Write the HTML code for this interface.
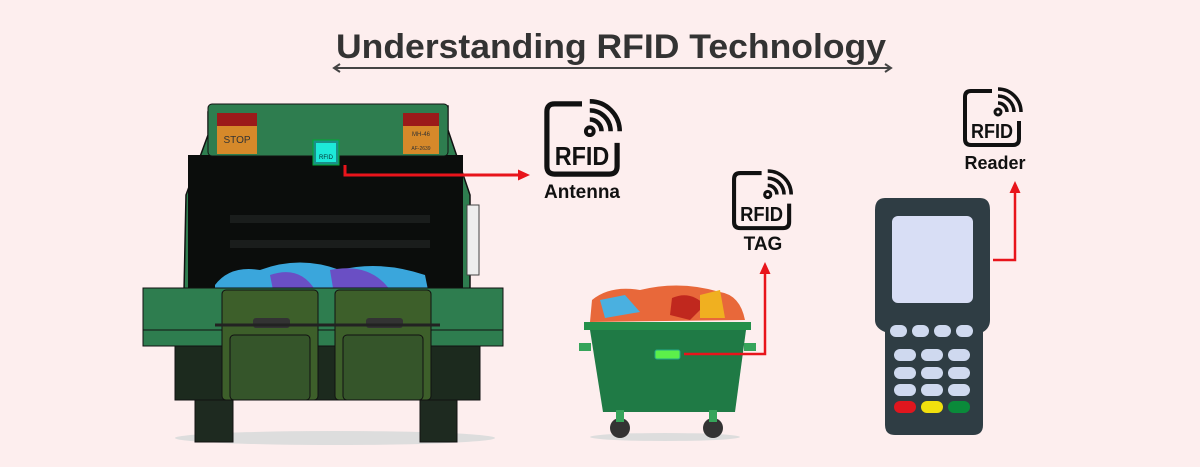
<!DOCTYPE html>
<html><head><meta charset="utf-8"><style>
html,body{margin:0;padding:0;background:#fdeeee;}
svg{display:block;font-family:"Liberation Sans",sans-serif;}
</style></head><body>
<svg width="1200" height="467" viewBox="0 0 1200 467" xmlns="http://www.w3.org/2000/svg">
<defs>
<g id="ic">
<path d="M30,3 H9 Q3,3 3,9 V51 Q3,57 9,57 H51 Q57,57 57,51 V33" fill="none" stroke="#111" stroke-width="4"/>
<circle cx="36" cy="24" r="3" fill="none" stroke="#111" stroke-width="3"/>
<path d="M36,15 A9,9 0 0 1 45,24 M36,8 A16,16 0 0 1 52,24 M36,1 A23,23 0 0 1 59,24" fill="none" stroke="#111" stroke-width="3.5"/>
<text x="9" y="50" font-size="20" font-weight="bold" fill="#111" textLength="42" lengthAdjust="spacingAndGlyphs">RFID</text>
</g>
<marker id="ah" markerUnits="userSpaceOnUse" markerWidth="12" markerHeight="12" refX="6" refY="6" orient="auto"><path d="M0,0.5 L12,6 L0,11.5Z" fill="#e8141b"/></marker>
</defs>
<rect width="1200" height="467" fill="#fdeeee"/>
<text x="336" y="58" font-size="34" font-weight="bold" fill="#333" textLength="550" lengthAdjust="spacingAndGlyphs">Understanding RFID Technology</text>
<line x1="335" y1="68" x2="890" y2="68" stroke="#444" stroke-width="2"/>
<path d="M340,64 L334,68 L340,72 M885,64 L891,68 L885,72" fill="none" stroke="#444" stroke-width="2"/>

<!-- truck -->
<ellipse cx="335" cy="438" rx="160" ry="7" fill="#ddd"/>
<rect x="195" y="390" width="38" height="52" fill="#1e2a20" stroke="#111"/>
<rect x="420" y="390" width="37" height="52" fill="#1e2a20" stroke="#111"/>
<rect x="175" y="345" width="305" height="55" fill="#1c2a1e" stroke="#111"/>
<path d="M208,112 L208,135 L186,195 L184,292 L470,292 L470,195 L448,130 L448,106 Z" fill="#2e7d4f" stroke="#111" stroke-width="1.5"/>
<rect x="467" y="205" width="12" height="70" fill="#eee" stroke="#444"/>
<rect x="188" y="155" width="275" height="140" fill="#0b0d0c"/>
<rect x="230" y="215" width="200" height="8" fill="#1a1d1c"/>
<rect x="230" y="240" width="200" height="8" fill="#1a1d1c"/>
<rect x="208" y="104" width="240" height="52" rx="4" fill="#2e7d4f" stroke="#111"/>
<rect x="217" y="113" width="40" height="13" fill="#9b1a1a"/>
<rect x="217" y="126" width="40" height="28" fill="#d6892a"/>
<text x="237" y="143" text-anchor="middle" font-size="10" fill="#333">STOP</text>
<rect x="403" y="113" width="36" height="13" fill="#9b1a1a"/>
<rect x="403" y="126" width="36" height="28" fill="#d6892a"/>
<text x="421" y="136" text-anchor="middle" font-size="6" fill="#333">MH-46</text>
<text x="421" y="150" text-anchor="middle" font-size="5" fill="#333">AF-2639</text>
<rect x="313" y="140" width="26" height="25" fill="#1a8f86" stroke="#0a3"/>
<rect x="316" y="143" width="20" height="19" fill="#1de9d8"/>
<text x="326" y="159" text-anchor="middle" font-size="6" fill="#033">RFID</text>
<path d="M215,285 Q230,265 260,270 Q300,255 340,270 Q380,260 425,275 L430,300 L215,300Z" fill="#3aa6dc"/>
<path d="M270,275 Q300,265 315,290 L275,300Z M330,270 Q370,262 390,290 L335,300Z" fill="#6a4fc4"/>
<rect x="143" y="288" width="360" height="58" fill="#2e7d4f" stroke="#111"/>
<line x1="143" y1="330" x2="503" y2="330" stroke="#111"/>
<rect x="222" y="290" width="96" height="110" rx="4" fill="#3d5f2a" stroke="#111"/>
<rect x="335" y="290" width="96" height="110" rx="4" fill="#3d5f2a" stroke="#111"/>
<rect x="230" y="335" width="80" height="65" rx="4" fill="#35552a" stroke="#111"/>
<rect x="343" y="335" width="80" height="65" rx="4" fill="#35552a" stroke="#111"/>
<rect x="253" y="318" width="37" height="10" rx="3" fill="#333"/>
<rect x="366" y="318" width="37" height="10" rx="3" fill="#333"/>
<line x1="215" y1="325" x2="440" y2="325" stroke="#222" stroke-width="3"/>
<polyline points="345,165 345,175 524,175" fill="none" stroke="#e8141b" stroke-width="3" marker-end="url(#ah)"/>

<use href="#ic" transform="translate(543,100) scale(1.3)"/>
<text x="582" y="198" text-anchor="middle" font-size="19" font-weight="bold" fill="#111">Antenna</text>

<!-- dumpster -->
<ellipse cx="665" cy="437" rx="75" ry="4" fill="#ddd"/>
<path d="M592,300 Q610,285 640,290 Q680,280 720,292 Q740,295 745,320 L590,322Z" fill="#e8683a"/>
<path d="M600,300 L625,295 L640,312 L605,318Z" fill="#4ab0e0"/>
<path d="M672,298 Q690,290 705,305 L690,320 L670,315Z" fill="#c0281e"/>
<path d="M700,295 L720,290 L725,318 L700,318Z" fill="#f0b020"/>
<rect x="584" y="322" width="167" height="8" fill="#24904a"/>
<path d="M590,330 L746,330 L735,412 L603,412Z" fill="#1f7a45"/>
<rect x="579" y="343" width="12" height="8" fill="#36a45a"/>
<rect x="744" y="343" width="12" height="8" fill="#36a45a"/>
<rect x="655" y="350" width="25" height="9" rx="2" fill="#5cf04a" stroke="#2a8"/>
<circle cx="620" cy="428" r="10" fill="#333"/><circle cx="713" cy="428" r="10" fill="#333"/>
<rect x="616" y="410" width="8" height="12" fill="#36a45a"/><rect x="709" y="410" width="8" height="12" fill="#36a45a"/>
<polyline points="684,354 765,354 765,268" fill="none" stroke="#e8141b" stroke-width="2.5" marker-end="url(#ah)"/>

<use href="#ic" transform="translate(731,170) scale(1.02)"/>
<text x="763" y="250" text-anchor="middle" font-size="19" font-weight="bold" fill="#111">TAG</text>

<!-- reader -->
<path d="M885,198 H980 Q990,198 990,210 V320 Q990,328 983,332 V425 Q983,435 973,435 H895 Q885,435 885,425 V332 Q875,328 875,320 V210 Q875,198 885,198Z" fill="#2f3d44"/>
<rect x="892" y="216" width="81" height="87" rx="6" fill="#d8def5"/>
<g fill="#cfd9ef">
<rect x="890" y="325" width="17" height="12" rx="6"/><rect x="912" y="325" width="17" height="12" rx="6"/><rect x="934" y="325" width="17" height="12" rx="6"/><rect x="956" y="325" width="17" height="12" rx="6"/>
<rect x="894" y="349" width="22" height="12" rx="6"/><rect x="921" y="349" width="22" height="12" rx="6"/><rect x="948" y="349" width="22" height="12" rx="6"/>
<rect x="894" y="367" width="22" height="12" rx="6"/><rect x="921" y="367" width="22" height="12" rx="6"/><rect x="948" y="367" width="22" height="12" rx="6"/>
<rect x="894" y="384" width="22" height="12" rx="6"/><rect x="921" y="384" width="22" height="12" rx="6"/><rect x="948" y="384" width="22" height="12" rx="6"/>
</g>
<rect x="894" y="401" width="22" height="12" rx="6" fill="#e0161e"/><rect x="921" y="401" width="22" height="12" rx="6" fill="#f1e00e"/><rect x="948" y="401" width="22" height="12" rx="6" fill="#0a8a3a"/>
<polyline points="993,260 1015,260 1015,187" fill="none" stroke="#e8141b" stroke-width="2.5" marker-end="url(#ah)"/>

<use href="#ic" transform="translate(962,88) scale(1)"/>
<text x="995" y="169" text-anchor="middle" font-size="18" font-weight="bold" fill="#111">Reader</text>
</svg>
</body></html>
